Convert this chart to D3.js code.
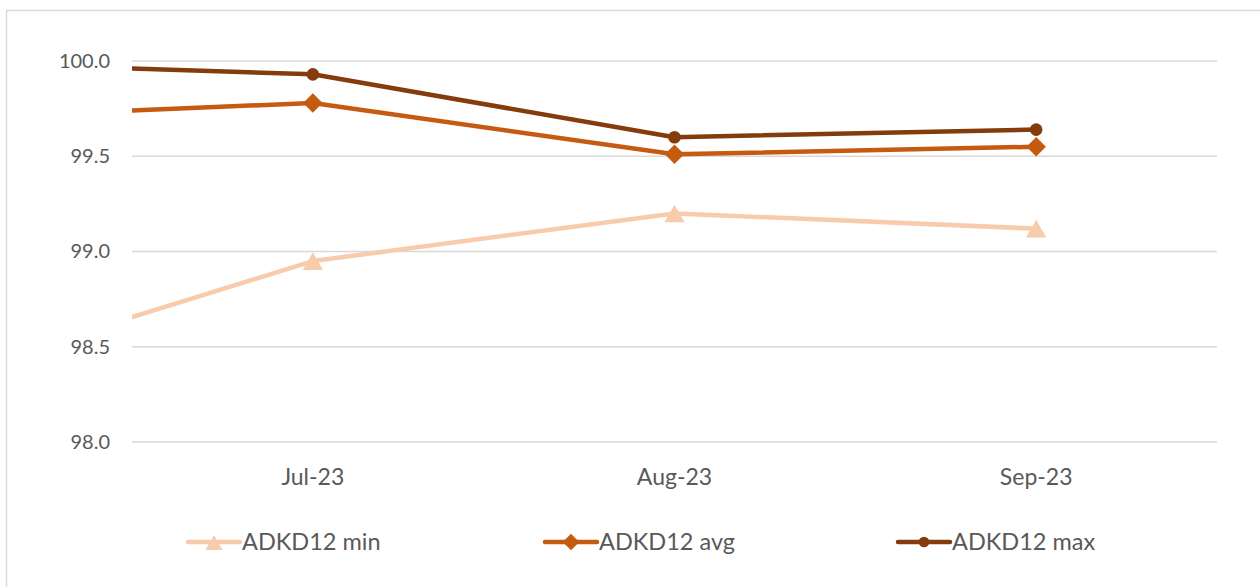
<!DOCTYPE html>
<html><head><meta charset="utf-8">
<script src="https://cdn.jsdelivr.net/npm/d3@7"></script>
<style>
html,body{margin:0;padding:0;background:#fff;}
svg{display:block;font-family:Lato,"Open Sans",sans-serif;}
</style></head>
<body>
<svg id="chart" width="1260" height="587"></svg>
<script>
// Hidden leading category (Jun-23) lies left of the visible plot; lines are clipped at the plot edge
const allCategories = ["Jun-23", "Jul-23", "Aug-23", "Sep-23"];
const visibleCategories = ["Jul-23", "Aug-23", "Sep-23"];
const minValues = [98.36, 98.95, 99.20, 99.12];
const avgValues = [99.70, 99.78, 99.51, 99.55];
const maxValues = [99.99, 99.93, 99.60, 99.64];
const yTicks = [98.0, 98.5, 99.0, 99.5, 100.0];
const seriesNames = ["ADKD12 min", "ADKD12 avg", "ADKD12 max"];
const seriesColors = ["#F8CBAD", "#C55A11", "#843C0C"];
const seriesMarkers = ["triangle", "diamond", "circle"];

const svg = d3.select("#chart");
const plotLeft = 132, plotRight = 1217, plotTop = 61, plotBottom = 442;

svg.append("rect").attr("x", 6.5).attr("y", 10.5).attr("width", 1300).attr("height", 600)
  .attr("fill", "none").attr("stroke", "#d9d9d9").attr("stroke-width", 1.5);

const x = d3.scaleBand().domain(visibleCategories).range([plotLeft, plotRight]);
const step = x.bandwidth();
const xPos = c => {
  const i = allCategories.indexOf(c) - 1;
  return plotLeft + step * (i + 0.5);
};
const y = d3.scaleLinear().domain([98, 100]).range([plotBottom, plotTop]);

// gridlines
svg.append("g").selectAll("line").data(yTicks).join("line")
  .attr("x1", plotLeft).attr("x2", plotRight)
  .attr("y1", d => y(d)).attr("y2", d => y(d))
  .attr("stroke", "#d9d9d9").attr("stroke-width", 1.5);

// y axis labels
const yAxis = d3.axisLeft(y).tickValues(yTicks).tickFormat(d3.format(".1f")).tickSize(0).tickPadding(22);
const ya = svg.append("g").attr("transform", `translate(${plotLeft},0)`).call(yAxis);
ya.select(".domain").remove();
ya.selectAll("text").attr("font-size", 20).attr("fill", "#595959").attr("font-family", "Lato,'Open Sans',sans-serif");

// x axis labels
const xAxis = d3.axisBottom(x).tickSize(0).tickPadding(27);
const xa = svg.append("g").attr("transform", `translate(0,${plotBottom})`).call(xAxis);
xa.select(".domain").remove();
xa.selectAll("text").attr("font-size", 23).attr("fill", "#595959").attr("font-family", "Lato,'Open Sans',sans-serif");

svg.append("clipPath").attr("id", "plotclip").append("rect")
  .attr("x", plotLeft).attr("y", 0).attr("width", plotRight - plotLeft + 40).attr("height", 587);

const series = [minValues, avgValues, maxValues];
const line = d3.line().x((d, i) => xPos(allCategories[i])).y(d => y(d));

function marker(sel, kind, color, scale) {
  if (kind === "triangle") {
    sel.append("path").attr("d", d3.symbol().type(d3.symbolTriangle).size(180 * scale * scale)).attr("transform", "translate(0,3)").attr("fill", color);
  } else if (kind === "diamond") {
    sel.append("path").attr("d", d3.symbol().type(d3.symbolSquare).size(190 * scale * scale)).attr("transform", "rotate(45)").attr("fill", color);
  } else {
    sel.append("circle").attr("r", 6.3 * scale).attr("fill", color);
  }
}

series.forEach((vals, s) => {
  const g = svg.append("g").attr("clip-path", "url(#plotclip)");
  g.append("path").datum(vals).attr("d", line).attr("fill", "none")
    .attr("stroke", seriesColors[s]).attr("stroke-width", 4.5).attr("stroke-linejoin", "round");
  g.selectAll("g.m").data(vals.slice(1)).join("g").attr("class", "m")
    .attr("transform", (d, i) => `translate(${xPos(allCategories[i + 1])},${y(d)})`)
    .each(function() { marker(d3.select(this), seriesMarkers[s], seriesColors[s], 1); });
});

// legend
const legendX = [188, 545, 898];
const legendY = 542;
seriesNames.forEach((n, s) => {
  const g = svg.append("g").attr("transform", `translate(${legendX[s]},${legendY})`);
  g.append("line").attr("x1", 0).attr("x2", 52).attr("y1", 0).attr("y2", 0)
    .attr("stroke", seriesColors[s]).attr("stroke-width", 4.5).attr("stroke-linecap", "round");
  marker(g.append("g").attr("transform", "translate(26,0)"), seriesMarkers[s], seriesColors[s], 0.85);
  g.append("text").attr("x", 54).attr("y", 0).attr("dy", "0.35em")
    .attr("font-size", 23.5).attr("fill", "#595959").text(n);
});
</script>
</body></html>
